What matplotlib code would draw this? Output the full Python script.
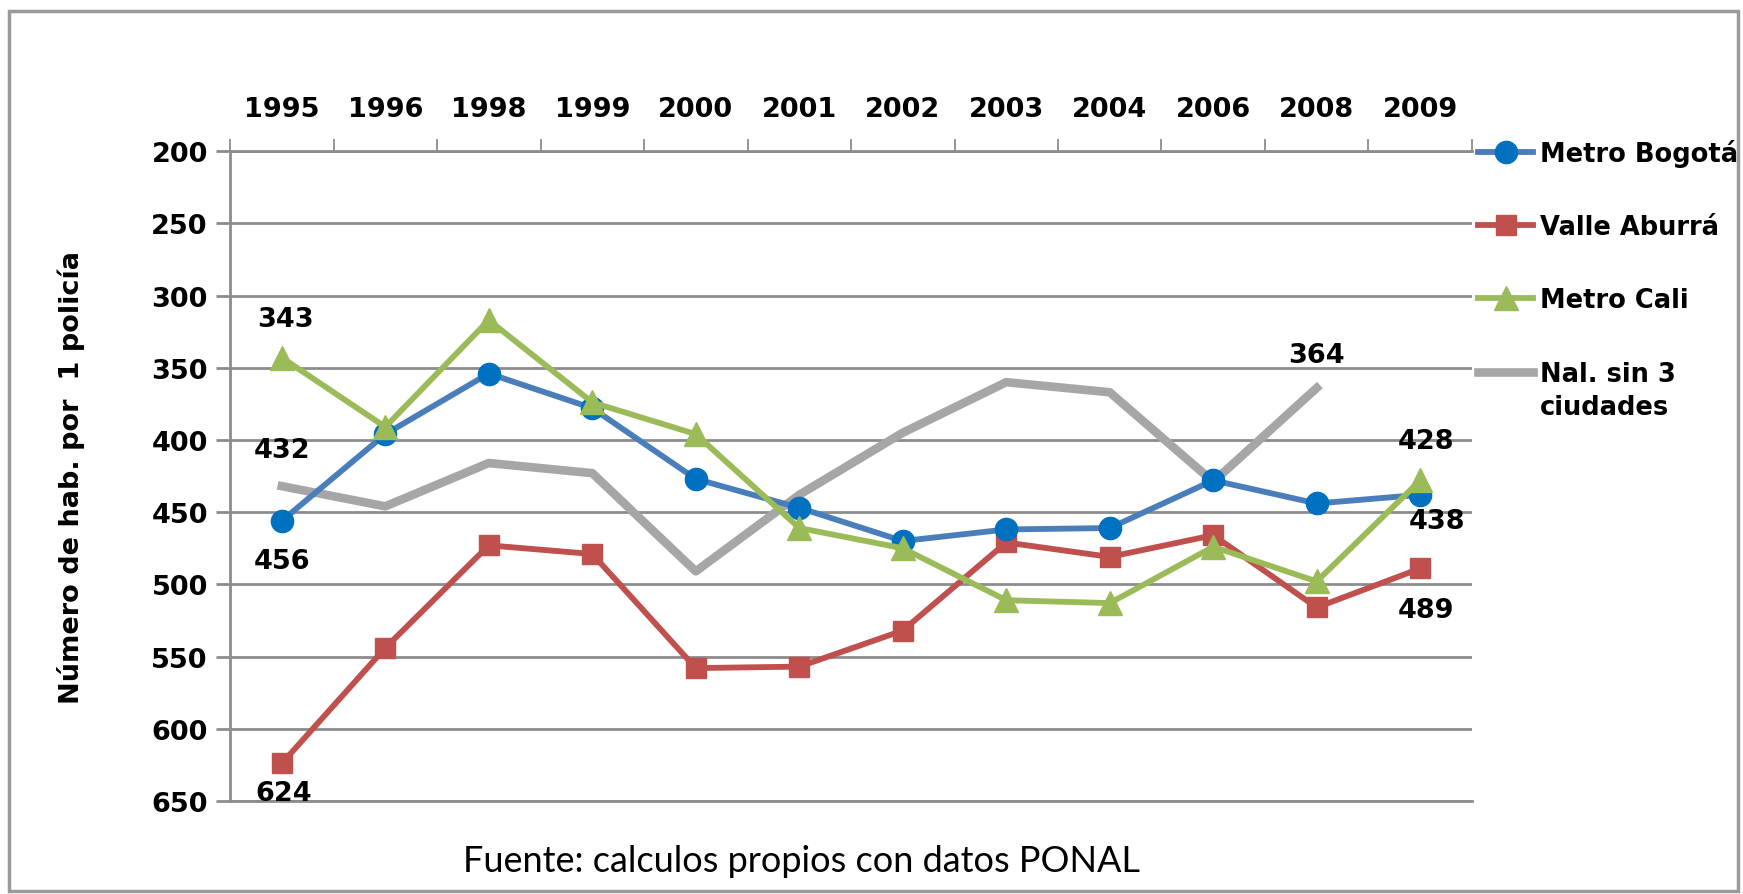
"""Habitantes por policía: Bogotá, Valle de Aburrá, Cali y resto del país."""

import matplotlib
matplotlib.use("Agg")
import matplotlib.pyplot as plt
from matplotlib.patches import Rectangle

years = ["1995", "1996", "1998", "1999", "2000", "2001",
         "2002", "2003", "2004", "2006", "2008", "2009"]

bogota = [456, 396, 354, 378, 427, 447, 470, 462, 461, 428, 444, 438]
aburra = [624, 544, 473, 479, 558, 557, 532, 471, 481, 466, 516, 489]
cali = [343, 391, 317, 374, 396, 461, 475, 511, 513, 474, 498, 428]
nacional = [432, 446, 416, 423, 491, 438, 395, 360, 367, 429, 364, None]

series_names = ["Metro Bogotá", "Valle Aburrá", "Metro Cali", "Nal. sin 3"]
legend_extra = "ciudades"

# data labels: (series, year index, offset in points)
labels = [
    (cali, 0, (3, 28)),
    (nacional, 0, (0, 26)),
    (bogota, 0, (0, -29)),
    (aburra, 0, (1, -21)),
    (nacional, 10, (0, 24)),
    (cali, 11, (4, 28)),
    (bogota, 11, (12, -19)),
    (aburra, 11, (4, -30)),
]

plt.rcParams["font.family"] = "DejaVu Sans"
plt.rcParams["font.weight"] = "bold"

fig = plt.figure(figsize=(17.43, 8.95), dpi=100)
ax = fig.add_axes([0.132, 0.104, 0.7125, 0.726])

x = list(range(len(years)))
ax.plot(x, bogota, color="#4A7EBB", lw=4.2, marker="o", ms=16,
        mfc="#0070C0", mec="#0070C0", label=series_names[0], zorder=4)
ax.plot(x, aburra, color="#C0504D", lw=4.2, marker="s", ms=15,
        mfc="#C0504D", mec="#C0504D", label=series_names[1], zorder=3)
ax.plot(x, cali, color="#9BBB59", lw=4.2, marker="^", ms=17,
        mfc="#9BBB59", mec="#9BBB59", label=series_names[2], zorder=5)
ax.plot(x[:11], nacional[:11], color="#A6A6A6", lw=6.2,
        label=series_names[3], zorder=2)

for series, i, off in labels:
    ax.annotate(str(series[i]), (i, series[i]), xytext=off,
                textcoords="offset points", ha="center", va="center",
                fontsize=19.5, fontweight="bold")

ax.set_ylim(650, 200)
ax.set_xlim(-0.5, len(years) - 0.5)
ax.set_yticks(range(200, 651, 50))
ax.yaxis.grid(True, color="#8C8C8C", lw=2)
ax.set_axisbelow(True)

ax.xaxis.tick_top()
ax.set_xticks(x)
ax.set_xticklabels(years)
ax.set_xticks([i - 0.5 for i in range(len(years) + 1)], minor=True)
ax.tick_params(axis="x", which="major", length=0, pad=21, labelsize=19.5)
ax.tick_params(axis="x", which="minor", length=9, width=1.3, color="#8C8C8C")
ax.tick_params(axis="y", length=10, width=2, color="#8C8C8C", labelsize=19.5, pad=6)

ax.spines["right"].set_visible(False)
for side in ["left", "top", "bottom"]:
    ax.spines[side].set_color("#8C8C8C")
    ax.spines[side].set_linewidth(2)

ax.set_ylabel("Número de hab. por  1 policía", fontsize=19.5, fontweight="bold")
ax.yaxis.set_label_coords(-0.117, 0.5)

leg = ax.legend(loc="upper left", bbox_to_anchor=(1.005, 1.019), frameon=False,
                fontsize=18.5, handlelength=2.15, handletextpad=0.27,
                labelspacing=1.84, borderaxespad=0, borderpad=0)

# second line of the last legend entry, under its first line
fig.canvas.draw()
bb = leg.get_texts()[3].get_window_extent().transformed(fig.transFigure.inverted())
fig.text(bb.x0, bb.y0 - 0.008, legend_extra, ha="left", va="top",
         fontsize=18.5, fontweight="bold")

fig.text(0.46, 0.037, "Fuente: calculos propios con datos PONAL",
         ha="center", va="center", fontsize=26, fontweight="normal",
         family="Lato")

# chart frame
fig.patches.append(Rectangle((0.005, 0.003), 0.992, 0.984,
                             transform=fig.transFigure, fill=False,
                             ec="#9A9A9A", lw=2.5))

fig.savefig("out.png", dpi=100)
